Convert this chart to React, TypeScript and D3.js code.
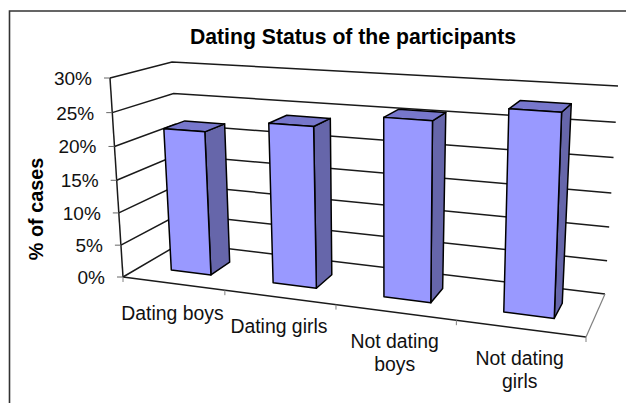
import React, { useEffect, useRef } from 'react';
import * as d3 from 'd3';

const title = 'Dating Status of the participants';
const yTitle = '% of cases';
const categories = ['Dating boys', 'Dating girls', 'Not dating boys', 'Not dating girls'];
const categoryLines = [['Dating boys'], ['Dating girls'], ['Not dating', 'boys'], ['Not dating', 'girls']];
const values = [22, 24, 26, 28.3];
const yTicks = [0, 5, 10, 15, 20, 25, 30];

// the box of the 3d chart on screen: [front/back][left/right][floor/top]
const box = {
  fl0: [123, 277], fl1: [110, 78],
  fr0: [586, 337], fr1: [594, 109],
  bl0: [181, 243], bl1: [172, 62],
  br0: [605, 294], br1: [618, 86],
};

const W = 626, H = 403;

// perspective makes the steps uneven, so both scales are piecewise
const xPos = d3.scaleLinear().domain([0, 0.25, 0.5, 0.75, 1]).range([0, 0.22, 0.46, 0.72, 1]);
const yPos = d3.scaleLinear().domain(yTicks).range([0, 0.16, 0.322, 0.486, 0.656, 0.826, 1]);
const band = d3.scaleBand<string>().domain(categories).range([0, 1]).paddingInner(0.6).paddingOuter(0.3);
const depth = d3.scaleLinear().domain([0, 1]).range([0, 1]);
const barDepth = [0.32, 0.68];

function project(t: number, val: number, dp: number): [number, number] {
  const u = xPos(t), v = yPos(val), d = depth(dp);
  const mix = (i: number) => {
    const f0 = box.fl0[i] + (box.fr0[i] - box.fl0[i]) * u;
    const f1 = box.fl1[i] + (box.fr1[i] - box.fl1[i]) * u;
    const b0 = box.bl0[i] + (box.br0[i] - box.bl0[i]) * u;
    const b1 = box.bl1[i] + (box.br1[i] - box.bl1[i]) * u;
    const f = f0 + (f1 - f0) * v;
    const b = b0 + (b1 - b0) * v;
    return f + (b - f) * d;
  };
  return [mix(0), mix(1)];
}

const line = d3.line();
const closed = (pts: [number, number][]) => line(pts) + 'Z';

export default function App() {
  const ref = useRef<SVGSVGElement>(null);

  useEffect(() => {
    const svg = d3.select(ref.current);
    svg.selectAll('*').remove();
    const font = '"Liberation Sans", Arial, sans-serif';

    svg.append('rect').attr('width', W).attr('height', H).attr('fill', '#fff');

    // outer frame, only top and left are in the crop
    svg.append('path').attr('d', `M9.5,${H}V11H${W}`).attr('fill', 'none').attr('stroke', '#333').attr('stroke-width', 1.6);

    svg.append('text').attr('x', 353).attr('y', 44).attr('text-anchor', 'middle')
      .attr('font-family', font).attr('font-weight', 'bold').attr('font-size', 21.2).attr('fill', '#000').text(title);

    svg.append('text').attr('transform', 'translate(43,209) rotate(-90)').attr('text-anchor', 'middle')
      .attr('font-family', font).attr('font-weight', 'bold').attr('font-size', 19.8).attr('fill', '#000').text(yTitle);

    const walls = svg.append('g').attr('fill', 'none').attr('stroke', '#1a1a1a').attr('stroke-width', 1.5);

    // gridlines along the left wall and the back wall
    walls.selectAll('path.grid').data(yTicks).enter().append('path').attr('class', 'grid')
      .attr('d', v => line([project(0, v, 0), project(0, v, 1), project(1, v, 1)]));

    // value axis with its ticks
    walls.append('path').attr('d', line([project(0, 0, 0), project(0, 30, 0)]));
    walls.selectAll('path.ytick').data(yTicks).enter().append('path').attr('class', 'ytick')
      .attr('stroke', '#666').attr('stroke-width', 1)
      .attr('d', v => {
        const [x, y] = project(0, v, 0);
        return line([[x - 6, y], [x, y]]);
      });

    // floor front edge, its ticks, and the lighter right edge
    walls.append('path').attr('d', line([project(0, 0, 0), project(1, 0, 0)]));
    walls.selectAll('path.xtick').data([0, 0.25, 0.5, 0.75, 1]).enter().append('path').attr('class', 'xtick')
      .attr('stroke', '#808080').attr('stroke-width', 1)
      .attr('d', t => {
        const [x, y] = project(t, 0, 0);
        return line([[x, y], [x, y + 5]]);
      });
    walls.append('path').attr('stroke', '#808080').attr('stroke-width', 1.2).attr('d', line([project(1, 0, 0), project(1, 0, 1)]));

    // bars
    const bars = svg.append('g').attr('stroke', '#000').attr('stroke-width', 1.5).attr('stroke-linejoin', 'round');
    const [d0, d1] = barDepth;
    categories.forEach((c, i) => {
      const t0 = band(c)!, t1 = t0 + band.bandwidth(), v = values[i];
      bars.append('path').attr('fill', '#6666aa')
        .attr('d', closed([project(t1, 0, d0), project(t1, v, d0), project(t1, v, d1), project(t1, 0, d1)]));
      bars.append('path').attr('fill', '#7777cc')
        .attr('d', closed([project(t0, v, d0), project(t1, v, d0), project(t1, v, d1), project(t0, v, d1)]));
      bars.append('path').attr('fill', '#9999ff')
        .attr('d', closed([project(t0, 0, d0), project(t1, 0, d0), project(t1, v, d0), project(t0, v, d0)]));
    });

    // value labels
    svg.append('g').selectAll('text').data(yTicks).enter().append('text')
      .attr('x', v => project(0, v, 0)[0] - 18)
      .attr('y', v => project(0, v, 0)[1] + 7)
      .attr('text-anchor', 'end').attr('font-family', font).attr('font-size', 19).attr('fill', '#111')
      .text(v => v + '%');

    // category labels
    categories.forEach((c, i) => {
      const tc = band(c)! + band.bandwidth() / 2;
      const [x, y] = project(tc, 0, 0);
      const label = svg.append('text').attr('text-anchor', 'middle').attr('font-family', font)
        .attr('font-size', 19.4).attr('fill', '#111');
      categoryLines[i].forEach((s, j) => {
        label.append('tspan').attr('x', x - 1.5).attr('y', y + 36 + j * 23).text(s);
      });
    });
  }, []);

  return <svg ref={ref} width={W} height={H} style={{ position: 'absolute', left: 0, top: 0 }} />;
}
